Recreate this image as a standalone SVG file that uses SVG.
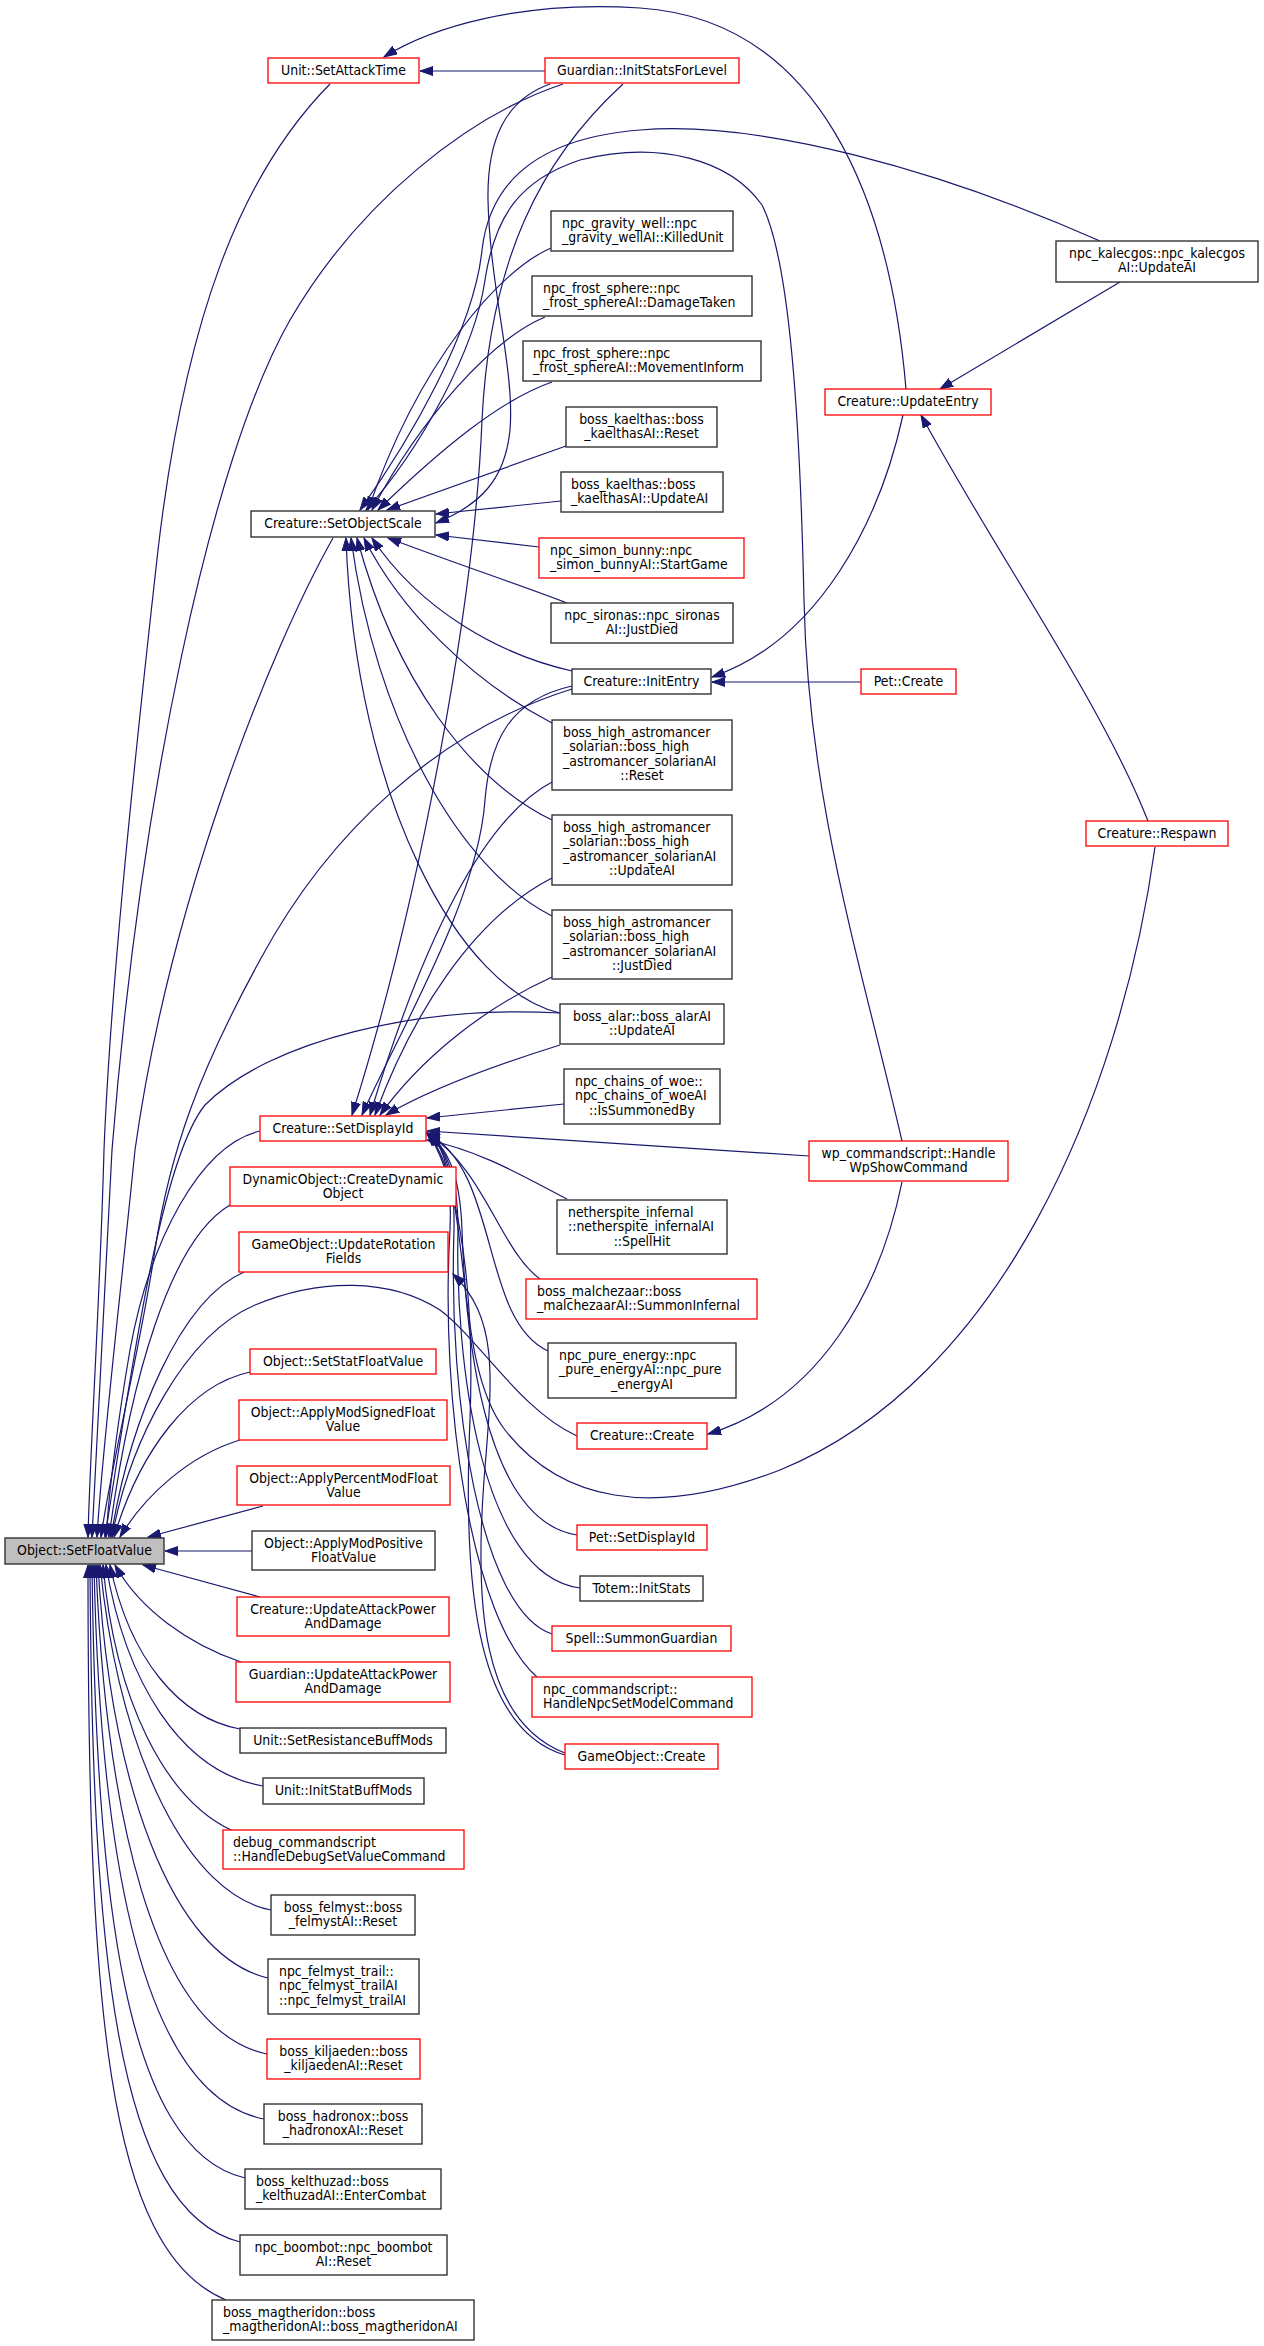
<svg xmlns="http://www.w3.org/2000/svg" width="1264" height="2346" viewBox="0 0 1264 2346">
<style>
.e{fill:none;stroke:#191970;stroke-width:1.2;marker-end:url(#arr)}
.r{fill:#fff;stroke:#ff0000;stroke-width:1.3}
.b{fill:#fff;stroke:#333333;stroke-width:1.4}
.g{fill:#bfbfbf;stroke:#333333;stroke-width:1.4}
text{font-family:"DejaVu Sans","Liberation Sans",sans-serif;font-size:12.5px;fill:#000;transform-box:fill-box;transform-origin:center;transform:scaleY(1.13)}
.m{text-anchor:middle}
.s{text-anchor:start}
</style>
<defs>
<marker id="arr" markerUnits="userSpaceOnUse" markerWidth="14" markerHeight="10" refX="13" refY="5" orient="auto"><path d="M0,0.5 L13,5 L0,9.5 z" fill="#191970" stroke="#191970" stroke-width="1"/></marker>
</defs>
<rect x="0" y="0" width="1264" height="2346" fill="#fff"/>
<g id="edges">
<path class="e" d="M330,84 C 240,175 185,320 158,550 C 130,800 110,1000 104,1150 C 100,1300 90,1450 88,1537"/>
<path class="e" d="M563,84 C 470,115 360,200 290,320 C 210,460 140,800 112,1150 C 104,1300 96,1450 92,1537"/>
<path class="e" d="M333,538 C 270,650 170,900 135,1150 C 120,1300 102,1450 97,1537"/>
<path class="e" d="M572,689 C 440,730 330,830 260,960 C 200,1070 170,1150 155,1250 C 140,1350 110,1470 101,1537"/>
<path class="e" d="M560,1013 C 420,1005 270,1040 205,1105 C 160,1160 130,1380 105,1537"/>
<path class="e" d="M260,1131 C 200,1145 150,1240 130,1350 C 118,1420 110,1480 106,1537"/>
<path class="e" d="M230,1205 C 170,1240 130,1380 109,1537"/>
<path class="e" d="M244,1272 C 180,1300 130,1420 111,1537"/>
<path class="e" d="M577,1436 C 520,1410 480,1340 440,1310 C 390,1278 320,1278 255,1305 C 185,1335 130,1440 112,1537"/>
<path class="e" d="M250,1372 C 190,1385 140,1450 114,1537"/>
<path class="e" d="M240,1440 C 190,1455 145,1495 120,1537"/>
<path class="e" d="M263,1506 L 148,1537"/>
<path class="e" d="M252,1551 L 165,1551"/>
<path class="e" d="M260,1597 L 143,1565"/>
<path class="e" d="M241,1662 C 190,1645 140,1610 115,1565"/>
<path class="e" d="M240,1729 C 180,1718 130,1660 110,1565"/>
<path class="e" d="M263,1786 C 180,1772 125,1680 106,1565"/>
<path class="e" d="M233,1831 C 165,1800 115,1700 103,1565"/>
<path class="e" d="M271,1910 C 190,1895 120,1760 100,1565"/>
<path class="e" d="M268,1978 C 170,1955 110,1780 98,1565"/>
<path class="e" d="M267,2054 C 150,2030 105,1800 96,1565"/>
<path class="e" d="M264,2119 C 140,2095 100,1850 94,1565"/>
<path class="e" d="M245,2178 C 125,2150 96,1900 92,1565"/>
<path class="e" d="M240,2242 C 115,2210 92,1950 90,1565"/>
<path class="e" d="M226,2300 C 105,2250 88,2000 88,1565"/>
<path class="e" d="M545,71 L 420,71"/>
<path class="e" d="M906,389 C 890,200 820,20 640,8 C 520,0 430,28 384,57"/>
<path class="e" d="M550,84 C 505,100 487,140 488,200 C 490,290 515,370 510,430 C 505,480 480,505 436,523"/>
<path class="e" d="M1100,241 C 940,170 760,120 640,130 C 540,138 490,180 482,250 C 474,330 410,440 360,510"/>
<path class="e" d="M902,1141 C 860,960 808,800 804,600 C 800,420 790,260 762,205 C 730,160 660,140 580,160 C 520,180 495,215 485,280 C 475,350 420,450 366,510"/>
<path class="e" d="M551,248 C 500,270 420,360 368,510"/>
<path class="e" d="M545,317 C 490,340 420,420 372,510"/>
<path class="e" d="M552,382 C 500,400 440,450 378,510"/>
<path class="e" d="M566,446 L 387,510"/>
<path class="e" d="M561,501 L 436,514"/>
<path class="e" d="M539,547 L 436,535"/>
<path class="e" d="M567,603 C 520,585 460,565 388,538"/>
<path class="e" d="M572,671 C 500,655 420,610 372,538"/>
<path class="e" d="M552,723 C 470,680 400,610 364,538"/>
<path class="e" d="M552,820 C 470,780 395,680 357,538"/>
<path class="e" d="M552,916 C 460,870 375,720 351,538"/>
<path class="e" d="M560,1013 C 460,990 355,800 346,538"/>
<path class="e" d="M623,84 C 540,160 490,260 482,420 C 475,600 420,900 352,1115"/>
<path class="e" d="M572,686 C 510,700 490,740 485,800 C 478,900 400,1030 362,1115"/>
<path class="e" d="M552,782 C 480,820 420,950 370,1115"/>
<path class="e" d="M552,878 C 470,920 410,1020 375,1115"/>
<path class="e" d="M552,977 C 480,1010 420,1060 380,1115"/>
<path class="e" d="M560,1045 C 480,1070 420,1095 386,1115"/>
<path class="e" d="M564,1104 L 427,1118"/>
<path class="e" d="M809,1156 L 427,1131"/>
<path class="e" d="M567,1199 C 530,1180 480,1150 427,1140"/>
<path class="e" d="M540,1279 C 500,1250 485,1170 427,1133"/>
<path class="e" d="M548,1351 C 480,1320 500,1170 427,1133"/>
<path class="e" d="M1155,847 C 1120,1100 1000,1380 780,1470 C 650,1520 560,1500 505,1430 C 450,1360 475,1180 427,1134"/>
<path class="e" d="M577,1535 C 480,1520 465,1320 462,1230 C 460,1170 445,1145 427,1133"/>
<path class="e" d="M580,1588 C 480,1575 455,1360 458,1230 C 458,1175 445,1145 427,1133"/>
<path class="e" d="M552,1634 C 480,1610 448,1400 454,1230 C 455,1175 445,1145 427,1133"/>
<path class="e" d="M538,1678 C 470,1620 440,1400 450,1230 C 452,1175 445,1145 427,1133"/>
<path class="e" d="M565,1755 C 480,1730 462,1600 470,1420 C 476,1260 450,1160 427,1133"/>
<path class="e" d="M565,1753 C 480,1720 475,1600 484,1480 C 492,1380 500,1320 453,1274"/>
<path class="e" d="M902,1182 C 880,1290 820,1400 708,1434"/>
<path class="e" d="M1120,282 L 940,389"/>
<path class="e" d="M1148,821 C 1100,700 1000,560 921,415"/>
<path class="e" d="M903,415 C 880,520 820,640 712,677"/>
<path class="e" d="M861,682 L 712,682"/>
</g>
<g id="n-unit-setattacktime"><rect class="r" x="268" y="58" width="151" height="25"/><text class="m" x="343.5" y="74">Unit::SetAttackTime</text></g>
<g id="n-creature-setobjectscale"><rect class="b" x="251" y="511" width="184" height="26"/><text class="m" x="343" y="527.5">Creature::SetObjectScale</text></g>
<g id="n-creature-setdisplayid"><rect class="r" x="260" y="1116" width="166" height="25"/><text class="m" x="343" y="1132">Creature::SetDisplayId</text></g>
<g id="n-dynamicobject"><rect class="r" x="230" y="1167" width="226" height="39"/><text class="m" x="343" y="1183">DynamicObject::CreateDynamic</text><text class="m" x="343" y="1197.5">Object</text></g>
<g id="n-gameobject-updaterotation"><rect class="r" x="239" y="1232" width="209" height="40"/><text class="m" x="343.5" y="1248">GameObject::UpdateRotation</text><text class="m" x="343.5" y="1262.5">Fields</text></g>
<g id="n-object-setstatfloatvalue"><rect class="r" x="250" y="1349" width="186" height="25"/><text class="m" x="343" y="1365">Object::SetStatFloatValue</text></g>
<g id="n-object-applymodsigned"><rect class="r" x="239" y="1400" width="208" height="40"/><text class="m" x="343" y="1416">Object::ApplyModSignedFloat</text><text class="m" x="343" y="1430.5">Value</text></g>
<g id="n-object-applypercentmod"><rect class="r" x="237" y="1466" width="213" height="39"/><text class="m" x="343.5" y="1482">Object::ApplyPercentModFloat</text><text class="m" x="343.5" y="1496.5">Value</text></g>
<g id="n-object-applymodpositive"><rect class="b" x="252" y="1531" width="183" height="39"/><text class="m" x="343.5" y="1547">Object::ApplyModPositive</text><text class="m" x="343.5" y="1561.5">FloatValue</text></g>
<g id="n-object-setfloatvalue"><rect class="g" x="5" y="1538" width="159" height="26"/><text class="m" x="84.5" y="1554.5">Object::SetFloatValue</text></g>
<g id="n-creature-updateattackpower"><rect class="r" x="237" y="1597" width="212" height="39"/><text class="m" x="343" y="1613">Creature::UpdateAttackPower</text><text class="m" x="343" y="1627.5">AndDamage</text></g>
<g id="n-guardian-updateattackpower"><rect class="r" x="236" y="1662" width="214" height="40"/><text class="m" x="343" y="1678">Guardian::UpdateAttackPower</text><text class="m" x="343" y="1692.5">AndDamage</text></g>
<g id="n-unit-setresistancebuffmods"><rect class="b" x="240" y="1728" width="206" height="25"/><text class="m" x="343" y="1744">Unit::SetResistanceBuffMods</text></g>
<g id="n-unit-initstatbuffmods"><rect class="b" x="263" y="1778" width="161" height="26"/><text class="m" x="343.5" y="1794.5">Unit::InitStatBuffMods</text></g>
<g id="n-debug-commandscript"><rect class="r" x="223" y="1830" width="241" height="39"/><text class="s" x="233" y="1846">debug_commandscript</text><text class="s" x="233" y="1860.5">::HandleDebugSetValueCommand</text></g>
<g id="n-boss-felmyst"><rect class="b" x="271" y="1895" width="144" height="40"/><text class="m" x="343" y="1911">boss_felmyst::boss</text><text class="m" x="343" y="1925.5">_felmystAI::Reset</text></g>
<g id="n-npc-felmyst-trail"><rect class="b" x="268" y="1959" width="151" height="55"/><text class="s" x="279" y="1975">npc_felmyst_trail::</text><text class="s" x="279" y="1989.5">npc_felmyst_trailAI</text><text class="s" x="279" y="2004">::npc_felmyst_trailAI</text></g>
<g id="n-boss-kiljaeden"><rect class="r" x="267" y="2039" width="153" height="40"/><text class="m" x="343.5" y="2055">boss_kiljaeden::boss</text><text class="m" x="343.5" y="2069.5">_kiljaedenAI::Reset</text></g>
<g id="n-boss-hadronox"><rect class="b" x="264" y="2104" width="158" height="40"/><text class="m" x="343" y="2120">boss_hadronox::boss</text><text class="m" x="343" y="2134.5">_hadronoxAI::Reset</text></g>
<g id="n-boss-kelthuzad"><rect class="b" x="245" y="2169" width="196" height="40"/><text class="s" x="256" y="2185">boss_kelthuzad::boss</text><text class="s" x="256" y="2199.5">_kelthuzadAI::EnterCombat</text></g>
<g id="n-npc-boombot"><rect class="b" x="240" y="2235" width="207" height="40"/><text class="m" x="343.5" y="2251">npc_boombot::npc_boombot</text><text class="m" x="343.5" y="2265.5">AI::Reset</text></g>
<g id="n-boss-magtheridon"><rect class="b" x="212" y="2300" width="262" height="40"/><text class="s" x="223" y="2316">boss_magtheridon::boss</text><text class="s" x="223" y="2330.5">_magtheridonAI::boss_magtheridonAI</text></g>
<g id="n-guardian-initstatsforlevel"><rect class="r" x="545" y="58" width="194" height="25"/><text class="m" x="642" y="74">Guardian::InitStatsForLevel</text></g>
<g id="n-npc-gravity-well"><rect class="b" x="551" y="211" width="182" height="40"/><text class="s" x="562" y="227">npc_gravity_well::npc</text><text class="s" x="562" y="241.5">_gravity_wellAI::KilledUnit</text></g>
<g id="n-frost-damagetaken"><rect class="b" x="532" y="276" width="220" height="40"/><text class="s" x="543" y="292">npc_frost_sphere::npc</text><text class="s" x="543" y="306.5">_frost_sphereAI::DamageTaken</text></g>
<g id="n-frost-movementinform"><rect class="b" x="523" y="341" width="238" height="40"/><text class="s" x="533" y="357">npc_frost_sphere::npc</text><text class="s" x="533" y="371.5">_frost_sphereAI::MovementInform</text></g>
<g id="n-kaelthas-reset"><rect class="b" x="566" y="407" width="151" height="40"/><text class="m" x="641.5" y="423">boss_kaelthas::boss</text><text class="m" x="641.5" y="437.5">_kaelthasAI::Reset</text></g>
<g id="n-kaelthas-updateai"><rect class="b" x="561" y="472" width="162" height="40"/><text class="s" x="571" y="488">boss_kaelthas::boss</text><text class="s" x="571" y="502.5">_kaelthasAI::UpdateAI</text></g>
<g id="n-simon-bunny"><rect class="r" x="539" y="538" width="205" height="40"/><text class="s" x="550" y="554">npc_simon_bunny::npc</text><text class="s" x="550" y="568.5">_simon_bunnyAI::StartGame</text></g>
<g id="n-sironas"><rect class="b" x="551" y="603" width="182" height="40"/><text class="m" x="642" y="619">npc_sironas::npc_sironas</text><text class="m" x="642" y="633.5">AI::JustDied</text></g>
<g id="n-creature-initentry"><rect class="b" x="572" y="669" width="139" height="25"/><text class="m" x="641.5" y="685">Creature::InitEntry</text></g>
<g id="n-solarian-reset"><rect class="b" x="552" y="720" width="180" height="70"/><text class="s" x="563" y="736">boss_high_astromancer</text><text class="s" x="563" y="750.5">_solarian::boss_high</text><text class="s" x="563" y="765">_astromancer_solarianAI</text><text class="m" x="642" y="779.5">::Reset</text></g>
<g id="n-solarian-updateai"><rect class="b" x="552" y="815" width="180" height="70"/><text class="s" x="563" y="831">boss_high_astromancer</text><text class="s" x="563" y="845.5">_solarian::boss_high</text><text class="s" x="563" y="860">_astromancer_solarianAI</text><text class="m" x="642" y="874.5">::UpdateAI</text></g>
<g id="n-solarian-justdied"><rect class="b" x="552" y="910" width="180" height="69"/><text class="s" x="563" y="926">boss_high_astromancer</text><text class="s" x="563" y="940.5">_solarian::boss_high</text><text class="s" x="563" y="955">_astromancer_solarianAI</text><text class="m" x="642" y="969.5">::JustDied</text></g>
<g id="n-boss-alar"><rect class="b" x="560" y="1004" width="164" height="40"/><text class="m" x="642" y="1020">boss_alar::boss_alarAI</text><text class="m" x="642" y="1034.5">::UpdateAI</text></g>
<g id="n-chains-of-woe"><rect class="b" x="564" y="1069" width="156" height="55"/><text class="s" x="575" y="1085">npc_chains_of_woe::</text><text class="s" x="575" y="1099.5">npc_chains_of_woeAI</text><text class="m" x="642" y="1114">::IsSummonedBy</text></g>
<g id="n-netherspite"><rect class="b" x="557" y="1200" width="170" height="54"/><text class="s" x="568" y="1216">netherspite_infernal</text><text class="s" x="568" y="1230.5">::netherspite_infernalAI</text><text class="m" x="642" y="1245">::SpellHit</text></g>
<g id="n-malchezaar"><rect class="r" x="526" y="1279" width="231" height="40"/><text class="s" x="537" y="1295">boss_malchezaar::boss</text><text class="s" x="537" y="1309.5">_malchezaarAI::SummonInfernal</text></g>
<g id="n-pure-energy"><rect class="b" x="548" y="1343" width="188" height="55"/><text class="s" x="559" y="1359">npc_pure_energy::npc</text><text class="s" x="559" y="1373.5">_pure_energyAI::npc_pure</text><text class="m" x="642" y="1388">_energyAI</text></g>
<g id="n-creature-create"><rect class="r" x="577" y="1423" width="130" height="26"/><text class="m" x="642" y="1439.5">Creature::Create</text></g>
<g id="n-pet-setdisplayid"><rect class="r" x="577" y="1525" width="130" height="25"/><text class="m" x="642" y="1541">Pet::SetDisplayId</text></g>
<g id="n-totem-initstats"><rect class="b" x="580" y="1576" width="123" height="25"/><text class="m" x="641.5" y="1592">Totem::InitStats</text></g>
<g id="n-spell-summonguardian"><rect class="r" x="552" y="1626" width="179" height="25"/><text class="m" x="641.5" y="1642">Spell::SummonGuardian</text></g>
<g id="n-npc-commandscript"><rect class="r" x="532" y="1677" width="220" height="40"/><text class="s" x="543" y="1693">npc_commandscript::</text><text class="s" x="543" y="1707.5">HandleNpcSetModelCommand</text></g>
<g id="n-gameobject-create"><rect class="r" x="565" y="1744" width="153" height="25"/><text class="m" x="641.5" y="1760">GameObject::Create</text></g>
<g id="n-creature-updateentry"><rect class="r" x="825" y="389" width="166" height="26"/><text class="m" x="908" y="405.5">Creature::UpdateEntry</text></g>
<g id="n-npc-kalecgos"><rect class="b" x="1056" y="241" width="202" height="41"/><text class="m" x="1157" y="257">npc_kalecgos::npc_kalecgos</text><text class="m" x="1157" y="271.5">AI::UpdateAI</text></g>
<g id="n-pet-create"><rect class="r" x="861" y="669" width="95" height="25"/><text class="m" x="908.5" y="685">Pet::Create</text></g>
<g id="n-creature-respawn"><rect class="r" x="1086" y="821" width="142" height="25"/><text class="m" x="1157" y="837">Creature::Respawn</text></g>
<g id="n-wp-commandscript"><rect class="r" x="809" y="1141" width="199" height="40"/><text class="m" x="908.5" y="1157">wp_commandscript::Handle</text><text class="m" x="908.5" y="1171.5">WpShowCommand</text></g>
</svg>
